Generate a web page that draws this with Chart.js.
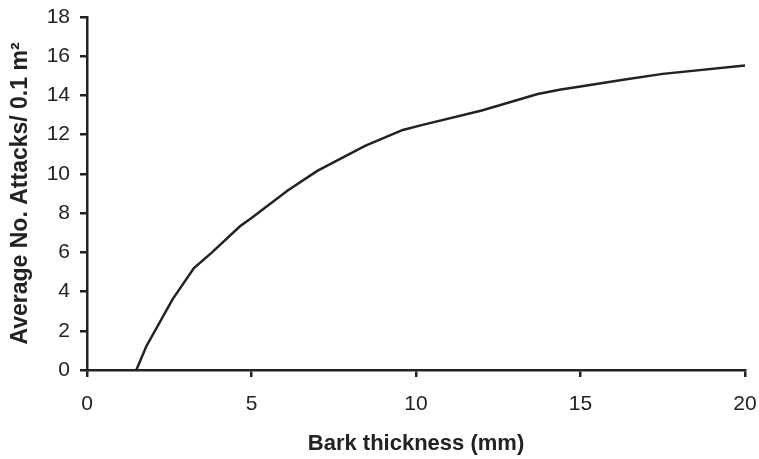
<!DOCTYPE html>
<html>
<head>
<meta charset="utf-8">
<script src="https://cdn.jsdelivr.net/npm/chart.js@4.4.1/dist/chart.umd.min.js"></script>
<style>
  html, body { margin: 0; padding: 0; background: #fff; overflow: hidden; }
  #wrap { width: 759px; height: 459px; }
  #barkChart { display: block; }
</style>
</head>
<body>
<div id="wrap"><canvas id="barkChart" width="759" height="459"></canvas></div>
<script>
// Values
const barkThickness = [1.5, 1.8, 2.6, 3.25, 3.8, 4.65, 5.0, 6.1, 7.0, 8.45, 9.6, 10.2, 12.0, 13.7, 14.4, 15.0, 16.3, 17.5, 20.0];
const avgAttacks    = [0, 1.2, 3.6, 5.2, 6.0, 7.33, 7.75, 9.15, 10.15, 11.43, 12.24, 12.5, 13.23, 14.07, 14.3, 14.46, 14.8, 15.1, 15.53];

const xTicks = [0, 5, 10, 15, 20];
const yTicks = [0, 2, 4, 6, 8, 10, 12, 14, 16, 18];

const inkColor = '#222222';
const fontFamily = '"Liberation Sans", Arial, sans-serif';

const points = barkThickness.map((x, i) => ({ x: x, y: avgAttacks[i] }));

const ctx = document.getElementById('barkChart').getContext('2d');
new Chart(ctx, {
  type: 'scatter',
  data: {
    datasets: [{
      label: 'Average attacks',
      data: points,
      showLine: true,
      borderColor: inkColor,
      borderWidth: 2.5,
      pointRadius: 0,
      tension: 0
    }]
  },
  options: {
    responsive: false,
    animation: false,
    layout: {
      padding: { top: 17, right: 14, bottom: 0, left: 0 }
    },
    plugins: {
      legend: { display: false },
      tooltip: { enabled: false }
    },
    scales: {
      x: {
        type: 'linear',
        min: 0,
        max: 20,
        // fixed axis height; drop the label overhang so the layout padding decides the plot edges
        afterFit: (scale) => {
          scale.height = 89;
          scale.paddingLeft = 0;
          scale.paddingRight = 0;
        },
        afterBuildTicks: (scale) => { scale.ticks = xTicks.map(v => ({ value: v })); },
        border: { display: true, color: inkColor, width: 2.5 },
        grid: { drawOnChartArea: false, drawTicks: true, tickLength: 7, color: inkColor, lineWidth: 2.5 },
        ticks: { color: inkColor, font: { family: fontFamily, size: 21 }, padding: 15, maxRotation: 0 },
        title: {
          display: true,
          text: 'Bark thickness (mm)',
          color: inkColor,
          font: { family: fontFamily, size: 22, weight: 'bold' },
          padding: { top: 0, bottom: 2 }
        }
      },
      y: {
        type: 'linear',
        min: 0,
        max: 18,
        afterFit: (scale) => {
          scale.width = 87;
          scale.paddingTop = 0;
          scale.paddingBottom = 0;
        },
        afterBuildTicks: (scale) => { scale.ticks = yTicks.map(v => ({ value: v })); },
        border: { display: true, color: inkColor, width: 2.5 },
        grid: { drawOnChartArea: false, drawTicks: true, tickLength: 7, color: inkColor, lineWidth: 2.5 },
        ticks: { color: inkColor, font: { family: fontFamily, size: 21 }, padding: 10 },
        title: {
          display: true,
          text: 'Average No. Attacks/ 0.1 m²',
          color: inkColor,
          font: { family: fontFamily, size: 23, weight: 'bold' },
          padding: { top: 7, bottom: 0 }
        }
      }
    }
  }
});
</script>
</body>
</html>
